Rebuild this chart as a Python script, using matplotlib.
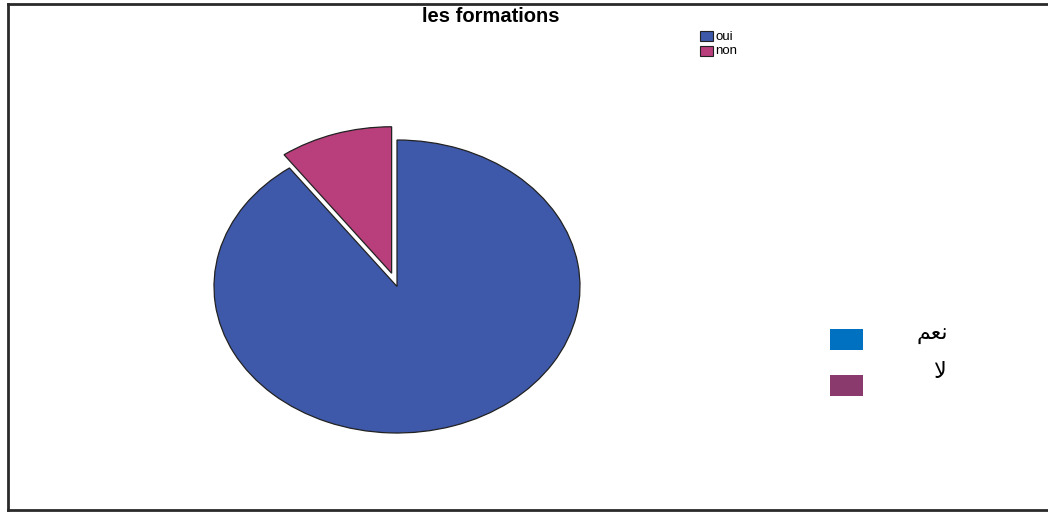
import matplotlib
matplotlib.use("Agg")
import matplotlib.pyplot as plt
from matplotlib.patches import Rectangle
from matplotlib.lines import Line2D

# ---- data ----
title = "les formations"
categories = ["oui", "non"]
values = [90, 10]
explode = [0.0, 0.095]
colors = ["#3E58AA", "#B93E7C"]

# second (pasted) legend
ar_labels = ["\uFEE2\uFECC\uFEE7", "\uFEFB"]  # نعم , لا (presentation forms)
ar_colors = ["#0070C0", "#8B3A6E"]

W, H = 1048, 512
fig = plt.figure(figsize=(W / 100, H / 100), dpi=100)
fig.patch.set_facecolor("white")

# pie axes: ellipse centre (397, 286.5) px, radii 183 x 146.5 px
rx, ry = 183, 146.5
cx, cy = 397, H - 286.5
lim = 1.2
ax = fig.add_axes([(cx - lim * rx) / W, (cy - lim * ry) / H,
                   2 * lim * rx / W, 2 * lim * ry / H])
wedges, _ = ax.pie(values, explode=explode, colors=colors, startangle=90,
                   counterclock=False,
                   wedgeprops=dict(edgecolor="#222222", linewidth=0.9))
ax.set_aspect("auto")
ax.set_xlim(-lim, lim)
ax.set_ylim(-lim, lim)
ax.axis("off")

fig.text(491 / W, 1 - 16 / H, title, ha="center", va="center",
         fontsize=14.5, fontweight="bold", family="Liberation Sans")

# small legend (top)
leg_tops = [31, 46]
for i, (lab, col) in enumerate(zip(categories, colors)):
    fig.patches.append(Rectangle((700 / W, 1 - (leg_tops[i] + 10) / H),
                                 13 / W, 10 / H, transform=fig.transFigure,
                                 facecolor=col, edgecolor="#222222",
                                 linewidth=0.8))
    fig.text(715 / W, 1 - (leg_tops[i] + 5.5) / H, lab, ha="left",
             va="center", fontsize=9.5, family="Liberation Sans")

# pasted Arabic legend
box_tops = [329, 375]
text_y = [335, 372]
text_x = [948, 946]
for i, (lab, col) in enumerate(zip(ar_labels, ar_colors)):
    fig.patches.append(Rectangle((830 / W, 1 - (box_tops[i] + 21) / H),
                                 33 / W, 21 / H, transform=fig.transFigure,
                                 facecolor=col, edgecolor="none"))
    fig.text(text_x[i] / W, 1 - text_y[i] / H, lab, ha="right", va="center",
             fontsize=16, family="DejaVu Sans")

# frame lines
lw = 2.0
fig.add_artist(Line2D([8 / W, 1.0], [1 - 4 / H, 1 - 4 / H], color="#2a2a2a",
                      linewidth=lw, transform=fig.transFigure))
fig.add_artist(Line2D([8 / W, 8 / W], [1 - 4 / H, 1 - 510 / H], color="#2a2a2a",
                      linewidth=lw, transform=fig.transFigure))
fig.add_artist(Line2D([8 / W, 1.0], [1 - 510 / H, 1 - 510 / H], color="#2a2a2a",
                      linewidth=lw, transform=fig.transFigure))

fig.savefig("out.png", dpi=100)
